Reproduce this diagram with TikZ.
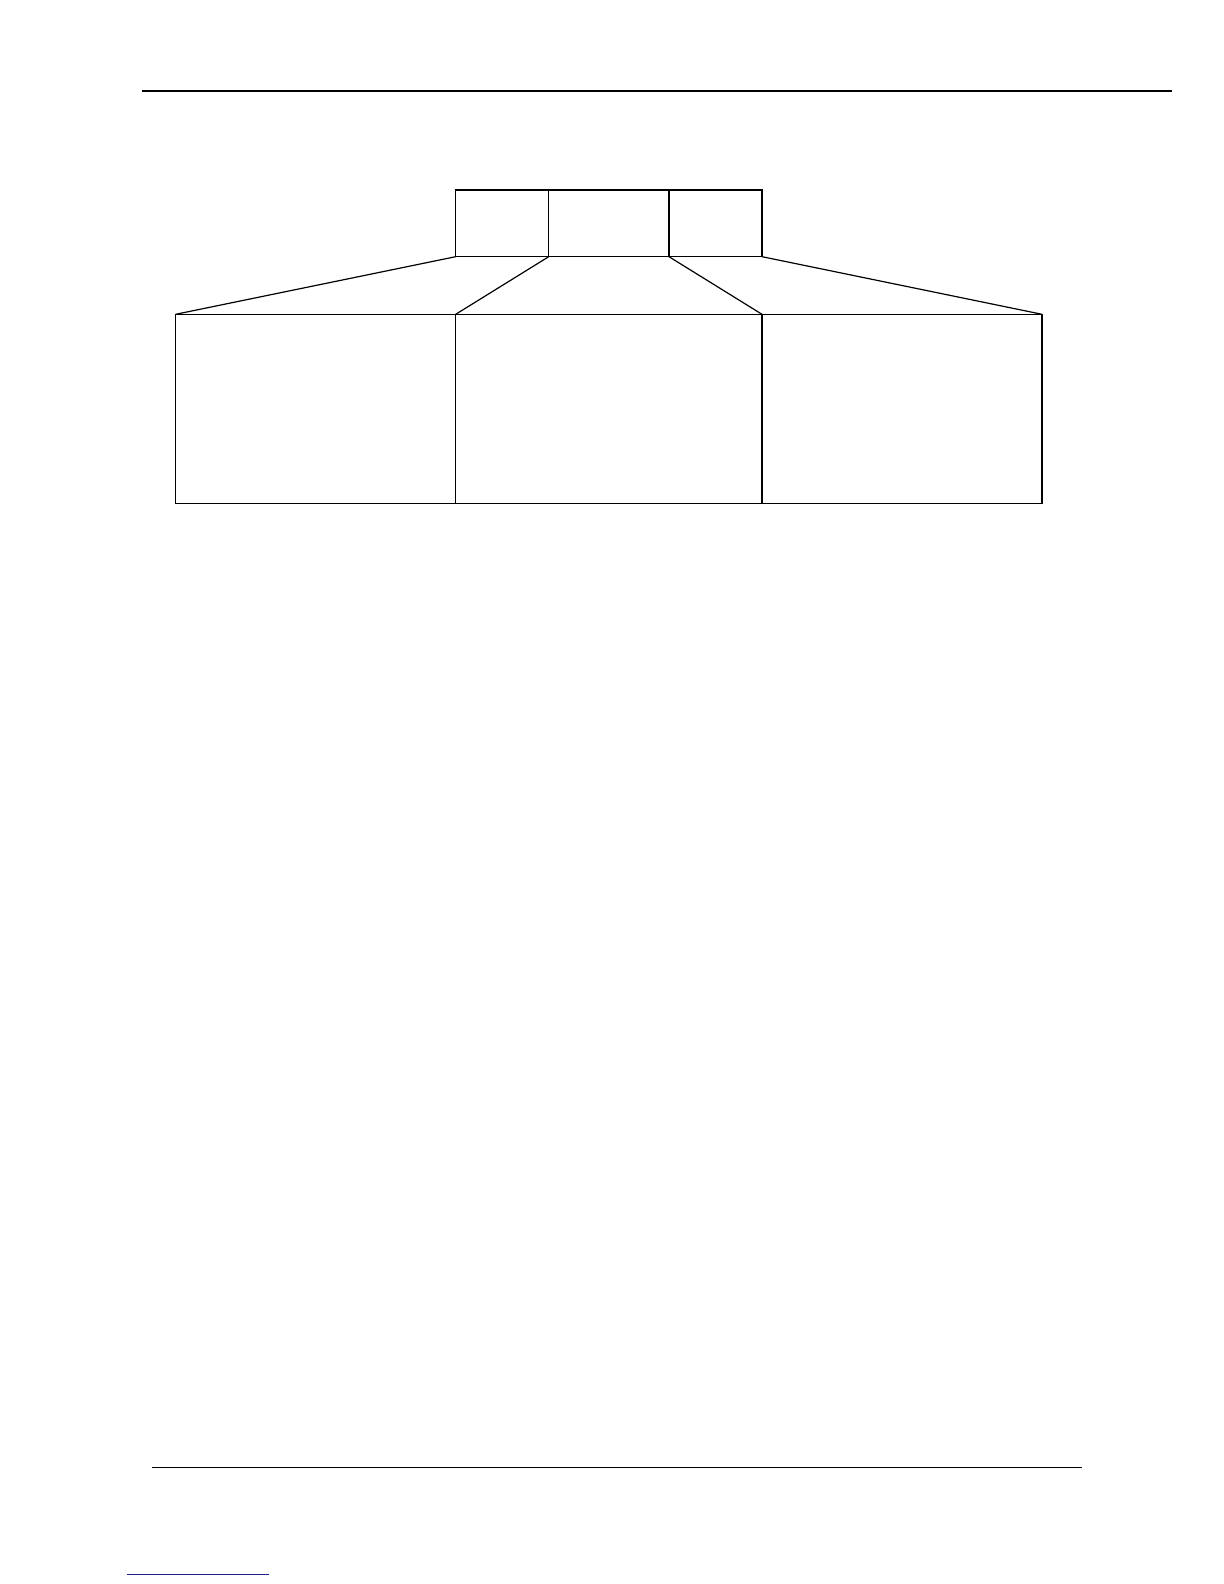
\documentclass[tikz,border=0pt]{standalone}
\definecolor{linkblue}{RGB}{30,30,140}
\begin{document}
\begin{tikzpicture}[x=0.5053pt,y=-0.5053pt,
  boxstyle/.style={draw=black,line width=0.65pt,inner sep=0pt,outer sep=0pt,rectangle},
  topbox/.style={boxstyle,minimum height=33.35pt},
  lowbox/.style={boxstyle,minimum height=94.5pt},
  joinline/.style={draw=black,line width=0.6pt},
  rulestyle/.style={draw=black,line width=0.7pt}]
\useasboundingbox (0,0) rectangle (1211.2,1567.5);
\fill[white] (0,0) rectangle (1211.2,1567.5);
% header and footer rules
\coordinate (hl) at (141,90);
\coordinate (hr) at (1160,90);
\draw[rulestyle] (hl) -- (hr);
\coordinate (fl) at (150,1452);
\coordinate (fr) at (1071,1452);
\draw[rulestyle] (fl) -- (fr);
\coordinate (ll) at (126,1558);
\coordinate (lr) at (266,1558);
\draw[draw=linkblue,line width=0.6pt] (ll) -- (lr);
% top boxes
\node[topbox,minimum width=46.5pt] (t1) at (497,221) {};
\node[topbox,minimum width=60.1pt] (t2) at (602.5,221) {};
\node[topbox,minimum width=46.5pt] (t3) at (708,221) {};
% lower boxes
\node[lowbox,minimum width=140pt] (b1) at (312.5,404.5) {};
\node[lowbox,minimum width=153.1pt] (b2) at (602.5,404.5) {};
\node[lowbox,minimum width=140pt] (b3) at (892.5,404.5) {};
% connectors
\draw[joinline] (t1.south west) -- (b1.north west);
\draw[joinline] (t2.south west) -- (b2.north west);
\draw[joinline] (t2.south east) -- (b2.north east);
\draw[joinline] (t3.south east) -- (b3.north east);
\end{tikzpicture}
\end{document}
